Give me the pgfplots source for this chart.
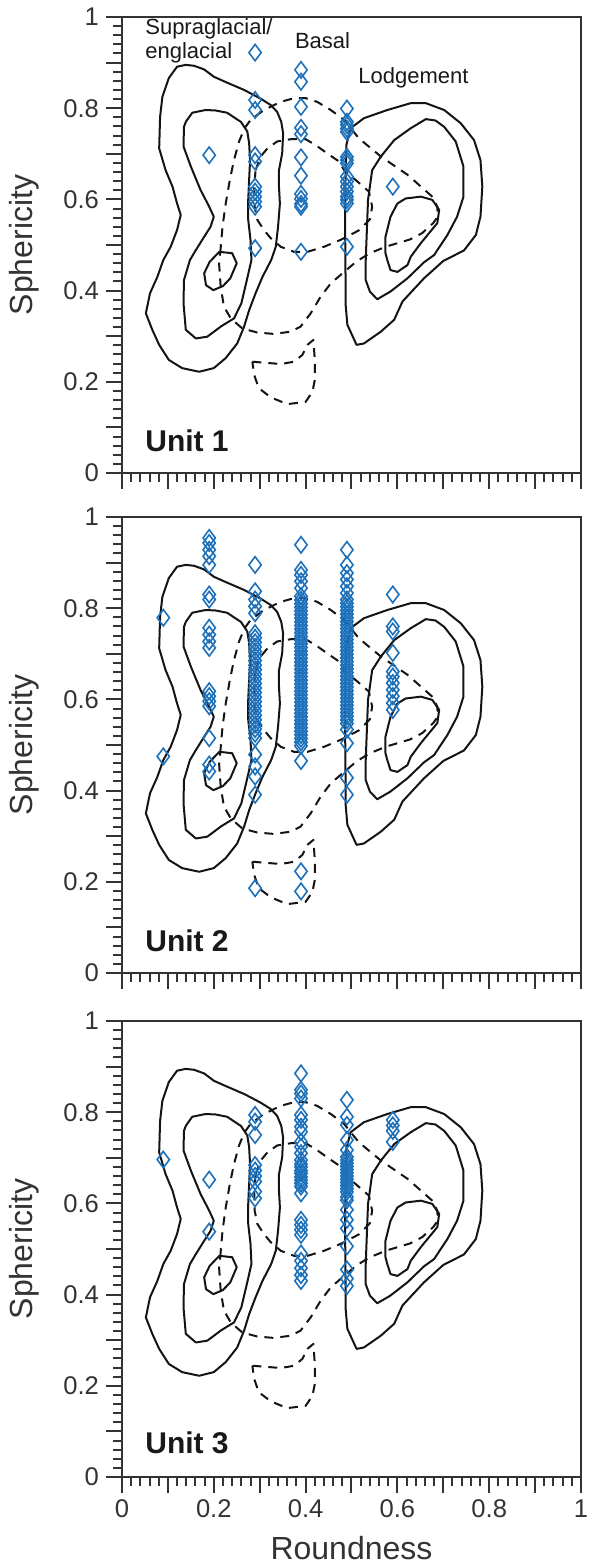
\documentclass[border=0pt]{standalone}
\usepackage{fontspec}
\setmainfont{Liberation Sans}
\usepackage{pgfplots}
\usepackage{pgfplotstable}
\pgfplotsset{compat=1.18}
\definecolor{dblue}{HTML}{1D71BA}
\definecolor{axgray}{HTML}{333333}

\pgfplotstableread{
x y
0.19 0.697
0.29 0.922
0.29 0.818
0.29 0.796
0.29 0.697
0.29 0.683
0.29 0.628
0.29 0.617
0.29 0.606
0.29 0.595
0.29 0.584
0.29 0.493
0.39 0.884
0.39 0.858
0.39 0.803
0.39 0.757
0.39 0.743
0.39 0.692
0.39 0.652
0.39 0.612
0.39 0.601
0.39 0.590
0.39 0.584
0.39 0.485
0.49 0.799
0.49 0.770
0.49 0.763
0.49 0.755
0.49 0.748
0.49 0.693
0.49 0.686
0.49 0.679
0.49 0.650
0.49 0.639
0.49 0.628
0.49 0.617
0.49 0.606
0.49 0.599
0.49 0.591
0.49 0.496
0.59 0.628
}\unitone

\pgfplotstableread{
x y
0.09 0.779
0.09 0.475
0.19 0.954
0.19 0.943
0.19 0.928
0.19 0.914
0.19 0.895
0.19 0.830
0.19 0.819
0.19 0.757
0.19 0.742
0.19 0.727
0.19 0.713
0.19 0.618
0.19 0.607
0.19 0.596
0.19 0.585
0.19 0.515
0.19 0.457
0.19 0.442
0.29 0.895
0.29 0.837
0.29 0.819
0.29 0.804
0.29 0.789
0.29 0.745
0.29 0.735
0.29 0.725
0.29 0.715
0.29 0.705
0.29 0.695
0.29 0.685
0.29 0.675
0.29 0.665
0.29 0.655
0.29 0.645
0.29 0.635
0.29 0.625
0.29 0.615
0.29 0.605
0.29 0.595
0.29 0.585
0.29 0.575
0.29 0.565
0.29 0.555
0.29 0.545
0.29 0.535
0.29 0.525
0.29 0.515
0.29 0.479
0.29 0.453
0.29 0.431
0.29 0.391
0.29 0.186
0.39 0.939
0.39 0.884
0.39 0.873
0.39 0.859
0.39 0.844
0.39 0.826
0.39 0.818
0.39 0.810
0.39 0.802
0.39 0.794
0.39 0.786
0.39 0.778
0.39 0.770
0.39 0.762
0.39 0.754
0.39 0.746
0.39 0.738
0.39 0.730
0.39 0.722
0.39 0.714
0.39 0.706
0.39 0.698
0.39 0.690
0.39 0.682
0.39 0.674
0.39 0.666
0.39 0.658
0.39 0.650
0.39 0.642
0.39 0.634
0.39 0.626
0.39 0.618
0.39 0.610
0.39 0.602
0.39 0.594
0.39 0.586
0.39 0.578
0.39 0.570
0.39 0.562
0.39 0.554
0.39 0.546
0.39 0.538
0.39 0.530
0.39 0.522
0.39 0.514
0.39 0.506
0.39 0.498
0.39 0.465
0.39 0.223
0.39 0.179
0.49 0.928
0.49 0.895
0.49 0.877
0.49 0.863
0.49 0.848
0.49 0.833
0.49 0.819
0.49 0.811
0.49 0.803
0.49 0.795
0.49 0.787
0.49 0.779
0.49 0.771
0.49 0.763
0.49 0.755
0.49 0.747
0.49 0.739
0.49 0.731
0.49 0.723
0.49 0.715
0.49 0.707
0.49 0.699
0.49 0.691
0.49 0.683
0.49 0.675
0.49 0.667
0.49 0.659
0.49 0.651
0.49 0.643
0.49 0.635
0.49 0.627
0.49 0.619
0.49 0.611
0.49 0.603
0.49 0.595
0.49 0.587
0.49 0.579
0.49 0.571
0.49 0.563
0.49 0.555
0.49 0.547
0.49 0.534
0.49 0.504
0.49 0.428
0.49 0.391
0.59 0.830
0.59 0.760
0.59 0.749
0.59 0.702
0.59 0.661
0.59 0.650
0.59 0.636
0.59 0.621
0.59 0.607
0.59 0.592
0.59 0.577
}\unittwo

\pgfplotstableread{
x y
0.09 0.696
0.19 0.652
0.19 0.538
0.29 0.794
0.29 0.779
0.29 0.750
0.29 0.684
0.29 0.672
0.29 0.660
0.29 0.648
0.29 0.626
0.29 0.611
0.39 0.885
0.39 0.849
0.39 0.841
0.39 0.830
0.39 0.794
0.39 0.783
0.39 0.768
0.39 0.757
0.39 0.735
0.39 0.724
0.39 0.710
0.39 0.695
0.39 0.686
0.39 0.680
0.39 0.672
0.39 0.666
0.39 0.658
0.39 0.651
0.39 0.644
0.39 0.637
0.39 0.622
0.39 0.564
0.39 0.553
0.39 0.542
0.39 0.531
0.39 0.490
0.39 0.474
0.39 0.458
0.39 0.443
0.39 0.430
0.49 0.827
0.49 0.790
0.49 0.772
0.49 0.739
0.49 0.717
0.49 0.702
0.49 0.695
0.49 0.688
0.49 0.681
0.49 0.674
0.49 0.667
0.49 0.660
0.49 0.653
0.49 0.646
0.49 0.639
0.49 0.632
0.49 0.625
0.49 0.614
0.49 0.607
0.49 0.586
0.49 0.564
0.49 0.545
0.49 0.506
0.49 0.455
0.49 0.435
0.49 0.419
0.59 0.783
0.59 0.771
0.59 0.759
0.59 0.735
}\unitthree

\pgfplotsset{
  csolid/.style={black!92, line width=1pt, line join=round, mark=none},
  cdashed/.style={black!92, line width=1pt, line join=round, mark=none, dash pattern=on 4.5pt off 3.5pt},
  diam/.style={only marks, mark=diamond, mark size=4.1pt, mark options={draw=dblue, line width=0.8pt, fill=none}},
  panel/.style={
    width=229.5pt, height=228pt, scale only axis,
    xmin=0, xmax=1, ymin=0, ymax=1,
    xtick={0,0.2,0.4,0.6,0.8,1}, ytick={0,0.2,0.4,0.6,0.8,1},
    minor x tick num=9, minor y tick num=9,
    extra x ticks={0.1,0.3,0.5,0.7,0.9}, extra y ticks={0.1,0.3,0.5,0.7,0.9},
    extra x tick labels={}, extra y tick labels={},
    extra tick style={major tick length=8pt},
    tick align=outside, tick pos=left,
    major tick length=8pt, minor tick length=4.5pt,
    every tick/.style={axgray, line width=1pt},
    axis line style={axgray, line width=1pt},
    /pgf/number format/assume math mode=true,
    ticklabel style={font=\fontsize{12.8}{13}\selectfont, text=axgray},
    ylabel={Sphericity},
    every axis y label/.style={at={(axis description cs:-0.2135,0.5)}, rotate=90, anchor=center, font=\fontsize{16}{16}\selectfont, text=axgray},
    every axis x label/.style={at={(axis description cs:0.5,0)}, anchor=center, yshift=-35.5pt, font=\fontsize{16}{16}\selectfont, text=axgray},
  }
}

\newcommand{\contours}{%
\addplot[csolid] coordinates {(.139,.895)(.157,.893)(.179,.885)(.200,.869)(.229,.856)(.266,.840)(.302,.821)(.324,.807)(.338,.792)(.347,.770)(.351,.745)(.349,.701)(.342,.664)(.342,.628)(.344,.591)(.340,.540)(.335,.496)(.325,.467)(.306,.430)(.291,.394)(.277,.357)(.266,.321)(.251,.284)(.226,.252)(.200,.230)(.168,.222)(.131,.230)(.102,.248)(.081,.281)(.066,.314)(.052,.350)(.061,.394)(.077,.430)(.090,.467)(.106,.496)(.120,.533)(.128,.566)(.120,.591)(.110,.628)(.095,.664)(.081,.712)(.083,.781)(.088,.825)(.102,.866)(.120,.891)(.139,.895)};
\addplot[csolid] coordinates {(.153,.790)(.182,.796)(.204,.795)(.229,.790)(.259,.770)(.273,.749)(.277,.723)(.279,.686)(.277,.643)(.275,.599)(.275,.555)(.280,.511)(.282,.467)(.272,.423)(.260,.372)(.244,.339)(.215,.321)(.186,.299)(.161,.295)(.139,.314)(.134,.372)(.135,.423)(.148,.467)(.161,.489)(.179,.518)(.193,.540)(.200,.562)(.190,.584)(.171,.621)(.150,.672)(.134,.716)(.135,.759)(.139,.770)(.153,.790)};
\addplot[csolid] coordinates {(.212,.485)(.240,.482)(.250,.460)(.236,.427)(.220,.410)(.199,.401)(.183,.412)(.179,.438)(.191,.463)(.212,.485)};
\addplot[csolid] coordinates {(.498,.756)(.527,.778)(.578,.796)(.629,.811)(.662,.811)(.702,.796)(.738,.767)(.767,.730)(.781,.686)(.785,.628)(.781,.562)(.771,.522)(.745,.488)(.700,.465)(.658,.427)(.611,.376)(.593,.336)(.564,.310)(.527,.284)(.511,.281)(.491,.325)(.487,.372)(.487,.430)(.486,.550)(.487,.650)(.489,.720)(.498,.756)};
\addplot[csolid] coordinates {(.536,.599)(.545,.664)(.564,.694)(.593,.730)(.629,.756)(.662,.776)(.683,.773)(.702,.759)(.727,.727)(.744,.672)(.744,.606)(.730,.562)(.709,.522)(.680,.478)(.658,.462)(.622,.427)(.585,.398)(.556,.381)(.540,.398)(.531,.423)(.531,.467)(.536,.599)};
\addplot[csolid] coordinates {(.600,.591)(.618,.602)(.651,.606)(.676,.599)(.691,.577)(.687,.548)(.669,.526)(.651,.504)(.629,.474)(.622,.456)(.600,.441)(.585,.445)(.578,.467)(.574,.482)(.574,.518)(.585,.562)(.600,.591)};
\addplot[cdashed] coordinates {(.214,.482)(.219,.540)(.226,.591)(.235,.643)(.244,.686)(.255,.727)(.267,.756)(.280,.774)(.309,.796)(.346,.814)(.375,.822)(.400,.822)(.425,.814)(.455,.796)(.484,.774)(.516,.734)(.564,.694)(.622,.654)(.676,.606)(.687,.584)(.688,.562)(.678,.548)(.654,.526)(.627,.512)(.577,.497)(.540,.482)(.511,.464)(.484,.441)(.455,.416)(.433,.387)(.411,.350)(.389,.321)(.368,.310)(.331,.305)(.295,.308)(.262,.317)(.237,.339)(.222,.365)(.215,.409)(.211,.467)(.214,.482)};
\addplot[cdashed] coordinates {(.291,.664)(.302,.694)(.317,.712)(.338,.727)(.368,.732)(.400,.732)(.422,.719)(.447,.701)(.473,.683)(.484,.664)(.513,.639)(.538,.617)(.545,.584)(.540,.556)(.516,.532)(.478,.512)(.440,.496)(.404,.485)(.375,.485)(.346,.496)(.324,.515)(.309,.533)(.295,.555)(.289,.584)(.288,.628)(.291,.664)};
\addplot[cdashed] coordinates {(.284,.244)(.309,.242)(.346,.239)(.375,.244)(.393,.259)(.404,.281)(.417,.292)(.420,.248)(.420,.204)(.415,.178)(.400,.156)(.360,.151)(.324,.166)(.298,.186)(.288,.215)(.284,.244)};
}

\begin{document}
\begin{tikzpicture}
\path[use as bounding box] (-61pt,-43.5pt) rectangle (234.5pt,738.5pt);

% Unit 1
\begin{axis}[panel, at={(0pt,502pt)}, anchor=south west, xticklabels={}]
\contours
\addplot[diam] table {\unitone};
\node[anchor=west, inner sep=0pt, font=\fontsize{15}{15}\selectfont\bfseries, text=black!90] at (axis cs:0.05,0.07) {Unit 1};
\node[anchor=north west, inner sep=0pt, align=left, font=\fontsize{11}{12}\selectfont, text=black!90] at (axis cs:0.05,0.998) {Supraglacial/\\englacial};
\node[anchor=center, inner sep=0pt, font=\fontsize{11}{12}\selectfont, text=black!90] at (axis cs:0.437,0.948) {Basal};
\node[anchor=center, inner sep=0pt, font=\fontsize{11}{12}\selectfont, text=black!90] at (axis cs:0.635,0.867) {Lodgement};
\end{axis}

% Unit 2
\begin{axis}[panel, at={(0pt,252pt)}, anchor=south west, xticklabels={}]
\contours
\addplot[diam] table {\unittwo};
\node[anchor=west, inner sep=0pt, font=\fontsize{15}{15}\selectfont\bfseries, text=black!90] at (axis cs:0.05,0.07) {Unit 2};
\end{axis}

% Unit 3
\begin{axis}[panel, at={(0pt,0pt)}, anchor=south west, xlabel={Roundness}]
\contours
\addplot[diam] table {\unitthree};
\node[anchor=west, inner sep=0pt, font=\fontsize{15}{15}\selectfont\bfseries, text=black!90] at (axis cs:0.05,0.075) {Unit 3};
\end{axis}
\end{tikzpicture}
\end{document}
